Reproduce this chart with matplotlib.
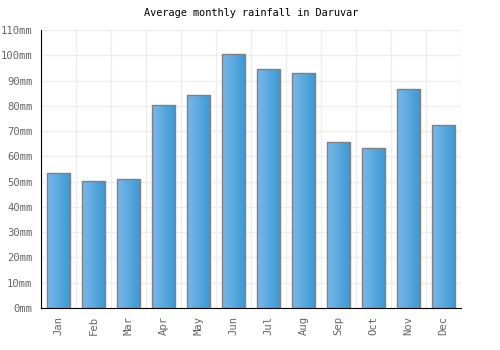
import matplotlib
matplotlib.use("Agg")
import matplotlib.pyplot as plt
import numpy as np
from matplotlib.colors import LinearSegmentedColormap

months = ["Jan", "Feb", "Mar", "Apr", "May", "Jun", "Jul", "Aug", "Sep", "Oct", "Nov", "Dec"]
rainfall = [53.5, 50.4, 51.1, 80.3, 84.2, 100.5, 94.5, 93.0, 65.7, 63.3, 86.6, 72.4]
yticks = list(range(0, 111, 10))
ylabels = [f"{v}mm" for v in yticks]

plt.rcParams['font.family'] = ['DejaVu Sans Mono']

fig = plt.figure(figsize=(5.0, 3.5), dpi=100)
ax = fig.add_axes([41/500, 42/350, 420/500, 278/350])

x = np.arange(len(months))
width = 0.66
cmap = LinearSegmentedColormap.from_list("g", ["#7ab8ea", "#3a98d2"])
grad = np.linspace(0, 1, 64).reshape(1, -1)
bars = ax.bar(x, rainfall, width=width, color="none", edgecolor="#808080", linewidth=1.0, zorder=3)
for b in bars:
    x0, y0 = b.get_x(), b.get_y()
    w, h = b.get_width(), b.get_height()
    im = ax.imshow(grad, cmap=cmap, aspect="auto", extent=[x0, x0 + w, y0, y0 + h], zorder=2)
    im.set_clip_path(b)

ax.set_xlim(-0.5, len(months) - 0.5)
ax.set_ylim(0, 110)
ax.set_yticks(yticks)
ax.set_yticklabels(ylabels, fontsize=7.6, color="#666666")
ax.set_xticks(x)
ax.set_xticklabels(months, rotation=90, fontsize=7.6, color="#666666")
ax.set_xticks(np.arange(-0.5, len(months), 1), minor=True)
ax.tick_params(axis="both", length=0, which="both")
ax.tick_params(axis="y", pad=6)
ax.tick_params(axis="x", pad=6)
ax.grid(True, axis="y", color="#eeeeee", linewidth=1, zorder=0)
ax.grid(True, axis="x", which="minor", color="#eeeeee", linewidth=1, zorder=0)
ax.grid(False, axis="x", which="major")
for s in ["top", "right"]:
    ax.spines[s].set_visible(False)
ax.spines["left"].set_color("black")
ax.spines["bottom"].set_color("black")
ax.set_title("Average monthly rainfall in Daruvar", fontsize=7.4, pad=10)
fig.savefig("out.png", dpi=100)
